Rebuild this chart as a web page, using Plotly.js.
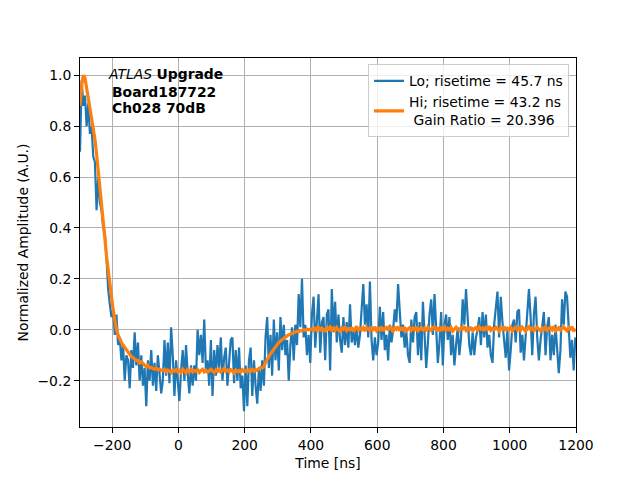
<!DOCTYPE html>
<html>
<head>
<meta charset="utf-8">
<script src="https://cdn.plot.ly/plotly-3.0.1.min.js"></script>
<style>
  html, body { margin: 0; padding: 0; background: #fff; }
  #chart { width: 640px; height: 480px; }
</style>
</head>
<body>
<div id="chart"></div>
<script>
// sampling of the scope trace
const START_NS = -297;
const STEP_NS = 5;

// Lo gain channel, normalized amplitude (one row = 50 ns)
const lo = [
  0.70, 0.98, 0.88, 0.92, 0.80, 0.89, 0.77, 0.80, 0.68, 0.66,
  0.47, 0.60, 0.50, 0.47, 0.40, 0.38, 0.28, 0.16, 0.10, 0.05,
  0.08, -0.02, 0.06, -0.06, -0.03, -0.12, -0.06, -0.20, -0.10, -0.12,
  -0.23, -0.08, -0.15, -0.01, -0.14, -0.05, -0.20, -0.10, -0.22, -0.15,
  -0.30, -0.12, -0.20, -0.08, -0.22, -0.13, -0.24, -0.10, -0.17, -0.25,
  -0.20, -0.04, -0.18, -0.05, -0.21, 0.01, -0.10, -0.26, -0.12, -0.22,
  -0.28, -0.16, -0.08, -0.20, -0.06, -0.17, -0.25, -0.14, -0.22, -0.14,
  -0.20, 0.00, -0.10, -0.02, -0.13, 0.04, -0.16, -0.12, -0.22, -0.04,
  -0.26, -0.08, -0.18, -0.06, -0.15, -0.03, -0.20, -0.11, -0.07, -0.22,
  -0.12, -0.04, -0.03, -0.21, -0.08, -0.20, -0.07, -0.23, -0.18, -0.32,
  -0.14, -0.30, -0.12, -0.07, -0.26, -0.12, -0.22, -0.29, -0.15, -0.24,
  -0.12, -0.22, -0.03, 0.05, -0.15, -0.02, -0.18, 0.04, -0.12, -0.01,
  -0.16, 0.05, -0.08, 0.02, -0.10, -0.04, -0.20, -0.06, 0.01, -0.12,
  0.02, -0.06, 0.14, 0.01, 0.20, -0.03, 0.02, -0.10, -0.02, -0.13,
  0.06, 0.13, -0.07, 0.05, 0.14, -0.09, 0.03, 0.05, -0.12, 0.06,
  0.08, -0.16, 0.16, -0.01, 0.11, -0.05, 0.06, -0.04, -0.09, 0.05,
  -0.06, 0.03, -0.07, 0.10, -0.05, 0.00, -0.06, 0.01, -0.07, -0.02,
  0.08, 0.18, 0.02, 0.10, -0.03, 0.19, -0.04, -0.12, -0.03, -0.10,
  -0.05, 0.09, -0.04, 0.07, -0.08, -0.02, -0.12, 0.02, -0.05, 0.00,
  0.08, 0.03, 0.18, 0.06, -0.03, 0.02, -0.07, -0.01, -0.10, -0.13,
  0.04, -0.05, 0.05, 0.07, -0.10, 0.03, -0.12, 0.11, -0.03, -0.15,
  -0.05, 0.06, 0.12, -0.02, 0.14, -0.03, -0.13, -0.05, 0.07, -0.14,
  0.02, 0.06, -0.04, 0.05, -0.10, -0.02, -0.14, -0.06, 0.01, -0.10,
  -0.03, 0.12, 0.02, 0.16, 0.03, -0.06, -0.10, -0.01, -0.10, -0.03,
  0.00, 0.05, -0.06, 0.07, -0.03, 0.06, -0.07, -0.02, -0.10, -0.13,
  0.02, 0.10, 0.15, -0.03, 0.13, 0.03, -0.06, -0.11, 0.00, -0.16,
  -0.08, 0.02, 0.04, -0.05, 0.07, 0.08, -0.09, -0.02, -0.12, -0.01,
  0.06, 0.16, 0.05, -0.10, 0.06, 0.13, -0.03, -0.12, -0.04, 0.02,
  0.07, -0.10, 0.01, 0.05, -0.12, -0.02, -0.10, 0.02, -0.06, -0.17,
  -0.08, 0.12, 0.02, 0.15, 0.13, -0.02, -0.11, -0.04, -0.16, -0.03
];

// Hi gain channel, same sampling
const hi = [
  0.88, 0.96, 1.00, 0.99, 0.95, 0.91, 0.87, 0.84, 0.80, 0.75,
  0.69, 0.63, 0.56, 0.49, 0.42, 0.36, 0.29, 0.23, 0.17, 0.13,
  0.08, 0.04, 0.00, -0.02, -0.04, -0.05, -0.06, -0.07, -0.08, -0.09,
  -0.10, -0.105, -0.11, -0.115, -0.12, -0.12, -0.13, -0.125, -0.135, -0.14,
  -0.145, -0.14, -0.15, -0.148, -0.152, -0.155, -0.15, -0.158, -0.155, -0.16,
  -0.16, -0.155, -0.165, -0.158, -0.162, -0.168, -0.158, -0.163, -0.157, -0.165,
  -0.16, -0.168, -0.155, -0.162, -0.17, -0.158, -0.164, -0.156, -0.166, -0.16,
  -0.163, -0.157, -0.168, -0.16, -0.155, -0.165, -0.159, -0.167, -0.161, -0.155,
  -0.162, -0.168, -0.158, -0.164, -0.156, -0.166, -0.16, -0.152, -0.163, -0.158,
  -0.165, -0.157, -0.162, -0.17, -0.158, -0.164, -0.16, -0.166, -0.157, -0.163,
  -0.16, -0.166, -0.158, -0.162, -0.155, -0.163, -0.157, -0.16, -0.152, -0.148,
  -0.15, -0.145, -0.128, -0.115, -0.105, -0.095, -0.085, -0.075, -0.066, -0.058,
  -0.05, -0.044, -0.038, -0.032, -0.028, -0.024, -0.02, -0.016, -0.013, -0.011,
  -0.009, -0.006, -0.008, -0.003, -0.005, 0.0, -0.002, 0.003, 0.0, 0.002,
  0.004, -0.006, 0.01, 0.0, 0.012, -0.004, 0.006, 0.002, -0.008, 0.008,
  0.003, 0.011, -0.005, 0.006, -0.002, 0.009, 0.0, -0.009, 0.007, 0.002,
  0.012, -0.003, 0.005, 0.0, 0.009, -0.006, 0.004, 0.013, -0.002, 0.006,
  0.0, 0.008, -0.005, 0.01, 0.003, -0.004, 0.007, 0.001, 0.011, -0.003,
  0.006, 0.0, 0.012, -0.004, 0.005, 0.009, -0.002, 0.014, 0.004, -0.005,
  0.008, 0.002, 0.013, -0.003, 0.006, 0.0, 0.01, -0.006, 0.004, 0.009,
  -0.002, 0.007, 0.001, 0.011, -0.004, 0.005, 0.009, 0.0, 0.006, -0.005,
  0.01, 0.003, -0.003, 0.008, 0.012, 0.0, 0.005, -0.006, 0.007, 0.002,
  0.011, -0.002, 0.006, 0.0, 0.009, -0.005, 0.004, 0.01, 0.001, -0.003,
  0.008, 0.003, 0.013, -0.002, 0.006, 0.0, 0.01, -0.005, 0.004, 0.008,
  -0.001, 0.012, 0.003, 0.007, -0.004, 0.009, 0.002, 0.014, -0.002, 0.005,
  0.0, 0.01, 0.004, -0.005, 0.008, 0.002, 0.012, -0.003, 0.006, 0.001,
  0.009, -0.004, 0.005, 0.011, 0.0, 0.007, -0.002, 0.01, 0.003, -0.006,
  0.006, 0.012, 0.0, 0.008, -0.003, 0.005, 0.01, 0.001, -0.004, 0.007,
  0.002, 0.011, -0.002, 0.006, 0.009, 0.0, 0.013, -0.005, 0.004, 0.008,
  -0.001, 0.007, 0.011, 0.002, -0.004, 0.009, 0.003, 0.012, -0.006, 0.005
];

const loName = 'Lo; risetime = 45.7 ns';
const hiName = 'Hi; risetime = 43.2 ns<br>\u00a0Gain Ratio = 20.396';
const xTicks = [-200, 0, 200, 400, 600, 800, 1000, 1200];
const yTicks = [-0.2, 0.0, 0.2, 0.4, 0.6, 0.8, 1.0];

const times = lo.map((_, i) => START_NS + i * STEP_NS);

const font = { family: 'DejaVu Sans', size: 13.9, color: '#000' };

const axisCommon = {
  showline: true, mirror: true, linecolor: '#000', linewidth: 1,
  ticks: 'outside', ticklen: 5, tickwidth: 1, tickcolor: '#000',
  showgrid: true, gridcolor: '#b0b0b0', gridwidth: 1,
  zeroline: false, tickfont: font
};

Plotly.newPlot('chart', [
  {
    x: times, y: lo, name: loName, type: 'scatter', mode: 'lines',
    line: { color: '#1f77b4', width: 2.2 }
  },
  {
    x: times, y: hi, name: hiName, type: 'scatter', mode: 'lines',
    line: { color: '#ff7f0e', width: 3.2 }
  }
], {
  width: 640, height: 480,
  margin: { l: 80, r: 64, t: 58, b: 53 },
  paper_bgcolor: '#fff', plot_bgcolor: '#fff',
  font: font,
  xaxis: Object.assign({}, axisCommon, {
    range: [-297, 1200], tickvals: xTicks,
    title: { text: 'Time [ns]', font: font, standoff: 6 }
  }),
  yaxis: Object.assign({}, axisCommon, {
    range: [-0.382, 1.068], tickvals: yTicks, tickformat: '.1f',
    title: { text: 'Normalized Amplitude (A.U.)', font: font, standoff: 5 }
  }),
  showlegend: true,
  legend: {
    x: 0.986, y: 0.983, xanchor: 'right', yanchor: 'top',
    bgcolor: 'rgba(255,255,255,0.8)', bordercolor: '#cccccc', borderwidth: 1,
    font: font, tracegroupgap: 2, valign: 'middle'
  },
  annotations: [
    { xref: 'paper', yref: 'paper', x: 0.052, y: 0.956, xanchor: 'left', yanchor: 'middle',
      showarrow: false, text: '<i>ATLAS</i>\u00a0<b>Upgrade</b>', font: font },
    { xref: 'paper', yref: 'paper', x: 0.060, y: 0.908, xanchor: 'left', yanchor: 'middle',
      showarrow: false, text: '<b>Board187722</b>', font: font },
    { xref: 'paper', yref: 'paper', x: 0.060, y: 0.864, xanchor: 'left', yanchor: 'middle',
      showarrow: false, text: '<b>Ch028 70dB</b>', font: font }
  ]
}, { displayModeBar: false });
</script>
</body>
</html>
